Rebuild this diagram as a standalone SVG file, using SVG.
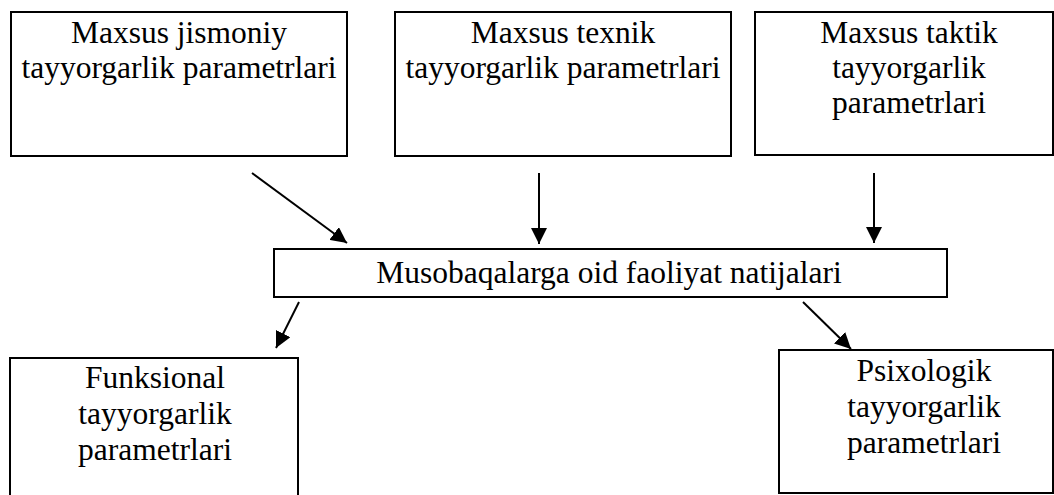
<svg xmlns="http://www.w3.org/2000/svg" width="1054" height="495" viewBox="0 0 1054 495">
<style>
.box{fill:#fff;stroke:#000;stroke-width:2}
.t{font-family:"Liberation Serif","Times New Roman",serif;font-size:31.5px;fill:#000;text-anchor:middle}
.c{stroke:#000;stroke-width:2;fill:none;marker-end:url(#ah)}
</style>
<defs>
<marker id="ah" viewBox="0 0 16 16" refX="16" refY="8" markerWidth="16" markerHeight="16" markerUnits="userSpaceOnUse" orient="auto">
<path d="M0,0 L16,8 L0,16 z" fill="#000"/>
</marker>
</defs>
<rect width="1054" height="495" fill="#fff"/>
<g id="n1">
<rect class="box" x="11" y="12" width="336" height="144"/>
<text class="t" x="179" y="43">Maxsus jismoniy</text>
<text class="t" x="179" y="78">tayyorgarlik parametrlari</text>
</g>
<g id="n2">
<rect class="box" x="395" y="12" width="336" height="144"/>
<text class="t" x="563" y="43">Maxsus texnik</text>
<text class="t" x="563" y="78">tayyorgarlik parametrlari</text>
</g>
<g id="n3">
<rect class="box" x="755" y="12" width="298" height="143"/>
<text class="t" x="909" y="43">Maxsus taktik</text>
<text class="t" x="909" y="78">tayyorgarlik</text>
<text class="t" x="909" y="113">parametrlari</text>
</g>
<g id="n4">
<rect class="box" x="274" y="249" width="673" height="48"/>
<text class="t" x="609" y="283">Musobaqalarga oid faoliyat natijalari</text>
</g>
<g id="n5">
<rect class="box" x="10" y="358" width="288" height="150"/>
<text class="t" x="155" y="388">Funksional</text>
<text class="t" x="155" y="424">tayyorgarlik</text>
<text class="t" x="155" y="460">parametrlari</text>
</g>
<g id="n6">
<rect class="box" x="779" y="350" width="274" height="143"/>
<text class="t" x="924" y="381">Psixologik</text>
<text class="t" x="924" y="417">tayyorgarlik</text>
<text class="t" x="924" y="453">parametrlari</text>
</g>
<g id="connectors">
<line class="c" x1="252" y1="173" x2="347" y2="243"/>
<line class="c" x1="539" y1="173" x2="539" y2="244"/>
<line class="c" x1="874" y1="173" x2="874" y2="243"/>
<line class="c" x1="299" y1="302" x2="276" y2="348"/>
<line class="c" x1="803" y1="302" x2="851" y2="349"/>
</g>
</svg>
